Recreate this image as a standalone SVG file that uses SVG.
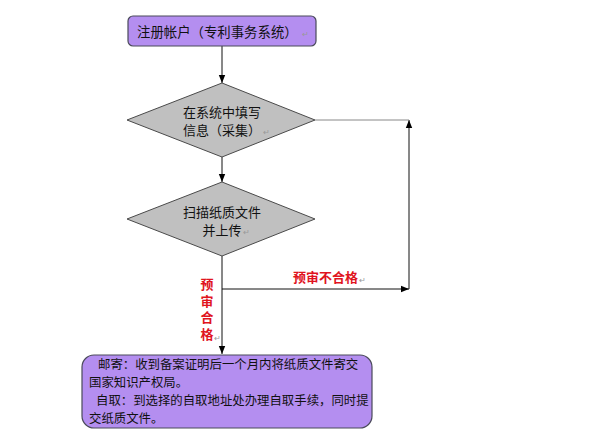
<svg xmlns="http://www.w3.org/2000/svg" width="591" height="443" viewBox="0 0 591 443">
<defs>
<marker id="ah" viewBox="0 0 10 10" refX="10" refY="5" markerWidth="8" markerHeight="8" markerUnits="userSpaceOnUse" orient="auto">
<path d="M0,1 L10,5 L0,9 Z" fill="#000"/>
</marker>
<style>
.box{fill:#b48ef0;stroke:#4a4a5a;stroke-width:1.2}
.dia{fill:#c0c0c0;stroke:#4a4a4a;stroke-width:1}
.t{font-family:"Noto Sans CJK SC","Liberation Sans",sans-serif;font-size:13.4px;fill:#111}
.td{font-family:"Noto Sans CJK SC","Liberation Sans",sans-serif;font-size:13px;fill:#111}
.tb{font-family:"Noto Sans CJK SC","Liberation Serif",serif;font-size:12.4px;fill:#111}
.red{font-family:"Noto Sans CJK SC","Liberation Sans",sans-serif;font-size:13px;font-weight:bold;fill:#e0141e}
.pm{font-family:"Liberation Sans",sans-serif;font-size:8px;fill:#999}
.ln{fill:none;stroke:#111;stroke-width:1}
</style>
</defs>
<rect width="591" height="443" fill="#fff"/>
<g id="connectors">
<line class="ln" x1="222" y1="46" x2="222" y2="83" marker-end="url(#ah)"/>
<line class="ln" x1="222" y1="157" x2="222" y2="182" marker-end="url(#ah)"/>
<line class="ln" x1="222" y1="256" x2="222" y2="354" marker-end="url(#ah)"/>
<line class="ln" x1="222" y1="289" x2="409" y2="289" marker-end="url(#ah)"/>
<line class="ln" x1="409" y1="289" x2="409" y2="120" marker-end="url(#ah)"/>
<line x1="315" y1="120" x2="409" y2="120" stroke="#888" stroke-width="1"/>
<text class="red" x="293" y="282">预审不合格</text><text class="pm" x="359" y="283">↵</text>
<text class="red" x="207" y="278" writing-mode="tb" letter-spacing="3.5">预审合格</text><text class="pm" x="214" y="341">↵</text>
</g>
<g id="n1">
<rect class="box" x="128" y="16" width="188" height="30" rx="5"/>
<text class="t" x="137" y="37">注册帐户（专利事务系统）</text><text class="pm" x="302" y="37">↵</text>
</g>
<g id="n2">
<polygon class="dia" points="222,83 315,120 222,157 127,120"/>
<text class="td" text-anchor="middle"><tspan x="222" y="117">在系统中填写</tspan><tspan x="222" y="135">信息（采集）</tspan></text><text class="pm" x="263" y="135">↵</text>
</g>
<g id="n3">
<polygon class="dia" points="222,182 315,219 222,256 127,219"/>
<text class="td" text-anchor="middle"><tspan x="222" y="217">扫描纸质文件</tspan><tspan x="222" y="235">并上传</tspan></text><text class="pm" x="243" y="235">↵</text>
</g>
<g id="n4">
<rect class="box" x="82" y="355" width="290" height="73" rx="12"/>
<text class="tb" x="98" y="369">邮寄：收到备案证明后一个月内将纸质文件寄交</text>
<text class="tb" x="89" y="387">国家知识产权局。</text>
<text class="tb" x="96" y="405">自取：到选择的自取地址处办理自取手续，同时提</text>
<text class="tb" x="89" y="423">交纸质文件。</text>
</g>
</svg>
